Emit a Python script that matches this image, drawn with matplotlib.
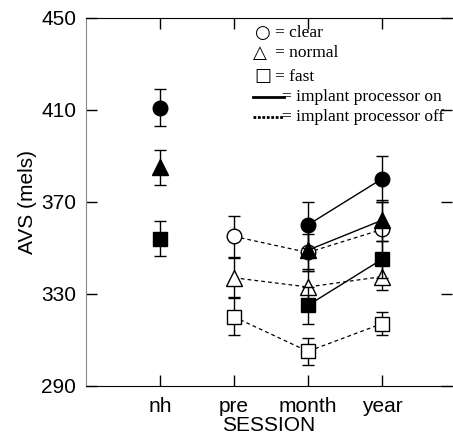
import matplotlib
matplotlib.use('Agg')
import matplotlib.pyplot as plt

# Sessions on the x axis
sessions = ['nh', 'pre', 'month', 'year']
xpos = [1, 2, 3, 4]

# implant processor on (filled markers) - month + year
on_x = [3, 4]
on_clear = [360, 380]
on_clear_err = [10, 10]
on_normal = [349, 362]
on_normal_err = [9, 9]
on_fast = [325, 345]
on_fast_err = [8, 8]

# normal hearing reference (filled)
nh_clear, nh_clear_err = 411, 8
nh_normal, nh_normal_err = 385, 7.5
nh_fast, nh_fast_err = 354, 7.5

# implant processor off (open markers) - pre, month, year
off_x = [2, 3, 4]
off_clear = [355, 348, 358]
off_clear_err = [9, 8, 12]
off_normal = [337, 333, 337.5]
off_normal_err = [8.5, 8, 6]
off_fast = [320, 305, 317]
off_fast_err = [8, 6, 5]

plt.rcParams['font.family'] = ['Liberation Sans', 'DejaVu Sans']

fig = plt.figure(figsize=(4.53, 4.44), dpi=100)
ax = fig.add_axes([0.19, 0.131, 0.808, 0.8285])

eb = dict(color='black', ecolor='black', elinewidth=1, capsize=4.5, capthick=1)

# open markers (processor off), dashed lines
for vals, errs, mk, ms in [(off_clear, off_clear_err, 'o', 10.5),
                           (off_normal, off_normal_err, '^', 11.5),
                           (off_fast, off_fast_err, 's', 10.5)]:
    ax.errorbar(off_x, vals, yerr=errs, fmt=mk, ms=ms, mfc='white', mec='black',
                mew=1, ls=(0, (3, 2.5)), lw=0.9, zorder=2, **eb)

# filled markers (processor on), solid lines
for vals, errs, mk, ms in [(on_clear, on_clear_err, 'o', 10.5),
                           (on_normal, on_normal_err, '^', 11.5),
                           (on_fast, on_fast_err, 's', 10.5)]:
    ax.errorbar(on_x, vals, yerr=errs, fmt=mk, ms=ms, mfc='black', mec='black',
                ls='-', lw=1, zorder=3, **eb)

# normal hearing
for v, e, mk, ms in [(nh_clear, nh_clear_err, 'o', 10.5),
                     (nh_normal, nh_normal_err, '^', 11.5),
                     (nh_fast, nh_fast_err, 's', 10.5)]:
    ax.errorbar([xpos[0]], [v], yerr=[e], fmt=mk, ms=ms, mfc='black', mec='black',
                zorder=3, **eb)

ax.set_xlim(0, 4.95)
ax.set_ylim(290, 450)
ax.set_yticks([290, 330, 370, 410, 450])
ax.set_xticks(xpos)
ax.set_xticklabels(sessions)
ax.tick_params(direction='in', length=8, width=1, labelsize=15, pad=7,
               top=True, right=True)
ax.tick_params(axis='x', pad=8)
ax.spines['right'].set_visible(False)
ax.spines['left'].set_color('#888888')
ax.set_ylabel('AVS (mels)', fontsize=15, labelpad=3)
ax.set_xlabel('SESSION', fontsize=15, labelpad=0)

# legend drawn as text
serif = ['Liberation Serif', 'DejaVu Sans']
sym = ['DejaVu Sans']
fs = 12.5
ax.text(0.459, 0.959, '\u25cb', transform=ax.transAxes, fontsize=13, family=sym,
        va='center')
ax.text(0.515, 0.959, '= clear', transform=ax.transAxes, fontsize=fs,
        family=serif, va='center')
ax.text(0.457, 0.905, '\u25b3', transform=ax.transAxes, fontsize=13, family=sym,
        va='center')
ax.text(0.515, 0.905, '= normal', transform=ax.transAxes, fontsize=fs,
        family=serif, va='center')
ax.text(0.459, 0.843, '\u25a1', transform=ax.transAxes, fontsize=13, family=sym,
        va='center')
ax.text(0.515, 0.840, '= fast', transform=ax.transAxes, fontsize=fs,
        family=serif, va='center')
ax.plot([0.456, 0.54], [0.785, 0.785], transform=ax.transAxes, color='black', lw=2)
ax.plot([0.456, 0.54], [0.731, 0.731], transform=ax.transAxes, color='black', lw=2,
        ls=(0, (1, 0.6)))
ax.text(0.536, 0.785, '= implant processor on', transform=ax.transAxes, fontsize=fs,
        family=serif, va='center')
ax.text(0.536, 0.731, '= implant processor off', transform=ax.transAxes, fontsize=fs,
        family=serif, va='center')

fig.savefig('out.png', dpi=100)
